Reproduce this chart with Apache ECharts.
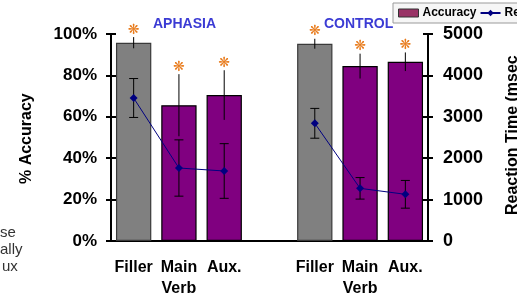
<!DOCTYPE html>
<html>
<head>
<meta charset="utf-8">
<script src="https://cdn.jsdelivr.net/npm/echarts@6/dist/echarts.min.js"></script>
<style>
html,body{margin:0;padding:0;background:#fff;}
#chart{width:517px;height:297px;}
</style>
</head>
<body>
<div id="chart"></div>
<script>
// ---- data ----
var categories = ['Filler', 'Main\nVerb', 'Aux.', '', 'Filler', 'Main\nVerb', 'Aux.'];
var groupTitles = ['APHASIA', 'CONTROL'];
var accuracy = [95.8, 65.6, 70.5, null, 95.3, 84.5, 86.6];
var accuracyErr = [2.7, 15, 12, null, 2.4, 6, 4.5];
var reactionTime = [3454, 1763, 1691, null, 2843, 1272, 1128];
var reactionErr = [470, 680, 660, null, 360, 260, 335];
var isFiller = [true, false, false, false, true, false, false];
var accTicks = [0, 100, 20];   // min, max, interval
var rtTicks = [0, 5000, 1000];
var sideText = ['se', 'ally', 'ux'];

var FONT = '"Liberation Sans", Arial, sans-serif';
var chart = echarts.init(document.getElementById('chart'), null, {renderer: 'canvas'});

var barData = accuracy.map(function (v, i) {
  if (v === null) return null;
  return isFiller[i]
    ? {value: v, itemStyle: {color: '#808080', borderColor: '#3a3a3a'}}
    : {value: v};
});
var accErrData = [], rtErrData = [], starData = [];
accuracy.forEach(function (v, i) {
  if (v === null) return;
  accErrData.push([i, v, accuracyErr[i]]);
  starData.push([i, v + accuracyErr[i]]);
});
reactionTime.forEach(function (v, i) {
  if (v === null) return;
  rtErrData.push([i, v, reactionErr[i]]);
});

function yAx(pos, t, fontSize, fmt, inside, show, margin) {
  return {
    type: 'value', position: pos, min: t[0], max: t[1], interval: t[2],
    axisLine: {show: true, lineStyle: {color: '#000', width: 2}},
    axisTick: {show: true, inside: inside, length: 5, lineStyle: {color: '#000', width: 2}},
    axisLabel: {show: show, formatter: fmt, color: '#000', fontFamily: FONT, fontWeight: 'bold', fontSize: fontSize, margin: margin},
    splitLine: {show: false}
  };
}

var option = {
  animation: false,
  backgroundColor: '#fff',
  grid: {left: 111, right: 89, top: 34, bottom: 56, outerBoundsMode: 'none'},
  legend: {
    orient: 'horizontal', left: 393, top: 3, width: 400,
    padding: [4, 5, 4, 5], itemGap: 3,
    itemWidth: 20, itemHeight: 8,
    backgroundColor: '#f6f6f6', borderColor: '#9a9a9a', borderWidth: 1,
    textStyle: {fontFamily: FONT, fontWeight: 'bold', fontSize: 12, color: '#000', padding: [0, 0, 0, -1]},
    data: [
      {name: 'Accuracy', icon: 'rect', itemStyle: {color: '#993366', borderColor: '#333', borderWidth: 1}},
      {name: 'Reaction Time (msec)'}
    ]
  },
  xAxis: {
    type: 'category', data: categories,
    axisLine: {show: true, lineStyle: {color: '#000', width: 2}},
    axisTick: {show: false},
    axisLabel: {interval: 0, color: '#000', fontFamily: FONT, fontWeight: 'bold', fontSize: 16, lineHeight: 21, margin: 16}
  },
  yAxis: [
    yAx('left', accTicks, 17, '{value}%', false, true, 14),
    yAx('right', rtTicks, 18, function (v) { return String(v); }, false, true, 15),
    yAx('left', accTicks, 17, '', true, false, 14),
    yAx('right', rtTicks, 18, '', true, false, 15)
  ],
  graphic: [
    {type: 'text', left: 153, top: 17, style: {text: groupTitles[0], fill: '#3b3bd4', font: 'bold 14px ' + FONT}},
    {type: 'text', left: 324, top: 17, style: {text: groupTitles[1], fill: '#3b3bd4', font: 'bold 14px ' + FONT}},
    {type: 'text', x: 19, y: 184, rotation: Math.PI / 2, style: {text: '% Accuracy', fill: '#000', font: 'bold 16px ' + FONT}},
    {type: 'text', x: 505, y: 215, rotation: Math.PI / 2, style: {text: 'Reaction Time (msec', fill: '#000', font: 'bold 16px ' + FONT}},
    {type: 'text', x: 0, y: 225, style: {text: sideText[0], fill: '#333', font: '15px ' + FONT}},
    {type: 'text', x: 0, y: 242, style: {text: sideText[1], fill: '#333', font: '15px ' + FONT}},
    {type: 'text', x: 2, y: 259, style: {text: sideText[2], fill: '#333', font: '15px ' + FONT}}
  ],
  series: [
    {
      name: 'Accuracy', type: 'bar', yAxisIndex: 0, data: barData,
      barCategoryGap: '22%',
      itemStyle: {color: '#800080', borderColor: '#000', borderWidth: 1.2},
      z: 2
    },
    {
      name: 'accErr', type: 'custom', yAxisIndex: 0, data: accErrData, z: 3,
      renderItem: function (params, api) {
        var x = api.value(0), v = api.value(1), e = api.value(2);
        var p1 = api.coord([x, v + e]), p2 = api.coord([x, v - e]);
        return {type: 'line', shape: {x1: p1[0], y1: p1[1], x2: p2[0], y2: p2[1]}, style: {stroke: '#000', lineWidth: 1}};
      }
    },
    {
      name: 'Reaction Time (msec)', type: 'line', yAxisIndex: 1, data: reactionTime,
      connectNulls: false, symbol: 'diamond', symbolSize: 8,
      lineStyle: {color: '#000080', width: 1},
      itemStyle: {color: '#000080'},
      z: 5
    },
    {
      name: 'rtErr', type: 'custom', yAxisIndex: 1, data: rtErrData, z: 4,
      renderItem: function (params, api) {
        var x = api.value(0), v = api.value(1), e = api.value(2);
        var p1 = api.coord([x, v + e]), p2 = api.coord([x, v - e]);
        var hw = 4.5;
        var st = {stroke: '#000', lineWidth: 1};
        return {type: 'group', children: [
          {type: 'line', shape: {x1: p1[0], y1: p1[1], x2: p2[0], y2: p2[1]}, style: st},
          {type: 'line', shape: {x1: p1[0] - hw, y1: p1[1], x2: p1[0] + hw, y2: p1[1]}, style: st},
          {type: 'line', shape: {x1: p2[0] - hw, y1: p2[1], x2: p2[0] + hw, y2: p2[1]}, style: st}
        ]};
      }
    },
    {
      name: 'stars', type: 'custom', yAxisIndex: 0, data: starData, z: 6,
      renderItem: function (params, api) {
        var p = api.coord([api.value(0), api.value(1)]);
        return {type: 'text', x: p[0], y: p[1] - 7, style: {text: '\u274B', fill: '#e87a1a', font: '14px "DejaVu Sans"', align: 'center', verticalAlign: 'middle'}};
      }
    }
  ]
};
chart.setOption(option);
</script>
</body>
</html>
